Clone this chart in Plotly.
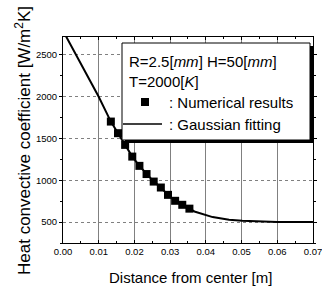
import plotly.graph_objects as go

# Data
num_x = [0.0134, 0.0154, 0.0174, 0.0194, 0.0214, 0.0234, 0.0254, 0.0274,
         0.0294, 0.0314, 0.0334, 0.0354]
num_h = [1703, 1564, 1424, 1284, 1173, 1075, 985, 914, 826, 755, 707, 661]

fit_x = [0.0, 0.005, 0.010, 0.0134, 0.0154, 0.0174, 0.0194, 0.0214, 0.0234,
         0.0254, 0.0274, 0.0294, 0.0314, 0.0334, 0.0354, 0.0368, 0.0419,
         0.0465, 0.0502, 0.0549, 0.060, 0.070]
fit_h = [2790, 2400, 2000, 1703, 1564, 1424, 1284, 1173, 1075,
         985, 914, 826, 755, 707, 661, 627, 560,
         527, 516, 507, 500, 500]

x_ticks = [0.00, 0.01, 0.02, 0.03, 0.04, 0.05, 0.06, 0.07]
y_ticks = [500, 1000, 1500, 2000, 2500]

FONT = "Liberation Sans, Arial, sans-serif"
W, H = 322, 286
L, R, T, B = 63, 9, 37, 43
PW, PH = W - L - R, H - T - B


def px(xp):
    return (xp - L) / PW


def py(yp):
    return (H - B - yp) / PH


fig = go.Figure()
fig.add_trace(go.Scatter(x=fit_x, y=fit_h, mode="lines",
                         line=dict(color="black", width=2), showlegend=False))
fig.add_trace(go.Scatter(x=num_x, y=num_h, mode="markers",
                         marker=dict(symbol="square", size=8, color="black"),
                         showlegend=False))

axis_common = dict(showline=True, linecolor="black", linewidth=1, mirror="ticks",
                   zeroline=False, tickfont=dict(family=FONT, size=9.5, color="black"),
                   tickcolor="black", ticklen=3, automargin=False,
                   ticklabeloverflow="allow")

fig.update_xaxes(range=[0, 0.07001], tickvals=x_ticks, tickformat=".2f",
                 ticks="inside", showgrid=True, gridcolor="#808080", gridwidth=1,
                 minor=dict(dtick=0.005, ticks="inside", ticklen=2, tickcolor="black",
                            showgrid=False),
                 **axis_common)
fig.update_yaxes(range=[250, 2715], tickvals=y_ticks,
                 ticks="outside", showgrid=True, gridcolor="#808080", gridwidth=1,
                 griddash="dot",
                 minor=dict(dtick=250, ticks="outside", ticklen=2, tickcolor="black",
                            showgrid=False),
                 **axis_common)

shapes = [
    # legend shadow
    dict(type="rect", xref="paper", yref="paper", x0=px(125), x1=px(313),
         y0=py(143), y1=py(46), fillcolor="black", line=dict(width=0), layer="above"),
    # legend box
    dict(type="rect", xref="paper", yref="paper", x0=px(122), x1=px(310),
         y0=py(140), y1=py(43), fillcolor="white", line=dict(color="black", width=1),
         layer="above"),
    # legend marker
    dict(type="rect", xref="paper", yref="paper", x0=px(141), x1=px(149),
         y0=py(106), y1=py(98), fillcolor="black", line=dict(width=0), layer="above"),
    # legend line
    dict(type="line", xref="paper", yref="paper", x0=px(123), x1=px(162),
         y0=py(124), y1=py(124), line=dict(color="black", width=1.5), layer="above"),
]

ann_font = dict(family=FONT, size=15, color="black")
annotations = [
    dict(text="R=2.5[<i>mm</i>] H=50[<i>mm</i>]", x=px(127), y=py(62)),
    dict(text="T=2000[<i>K</i>]", x=px(127), y=py(81)),
    dict(text=": Numerical results", x=px(167), y=py(102)),
    dict(text=": Gaussian fitting", x=px(167), y=py(124)),
]
for a in annotations:
    a.update(xref="paper", yref="paper", xanchor="left", yanchor="middle",
             showarrow=False, font=ann_font)

annotations.append(dict(text="Distance from center [m]", xref="paper", yref="paper",
                        x=px(190), y=py(277), xanchor="center", yanchor="middle",
                        showarrow=False, font=dict(family=FONT, size=15, color="black")))
annotations.append(dict(text="Heat convective coefficient [W/m<sup>2</sup>K]",
                        xref="paper", yref="paper", textangle=-90,
                        x=px(23), y=py(141), xanchor="center", yanchor="middle",
                        showarrow=False, font=dict(family=FONT, size=17, color="black")))

fig.update_layout(width=W, height=H, margin=dict(l=L, r=R, t=T, b=B, autoexpand=False),
                  paper_bgcolor="white", plot_bgcolor="white",
                  shapes=shapes, annotations=annotations, showlegend=False)

fig.write_html("out.html", config={"displayModeBar": False},
               post_script="document.body.style.margin='0';document.body.style.padding='0';")
